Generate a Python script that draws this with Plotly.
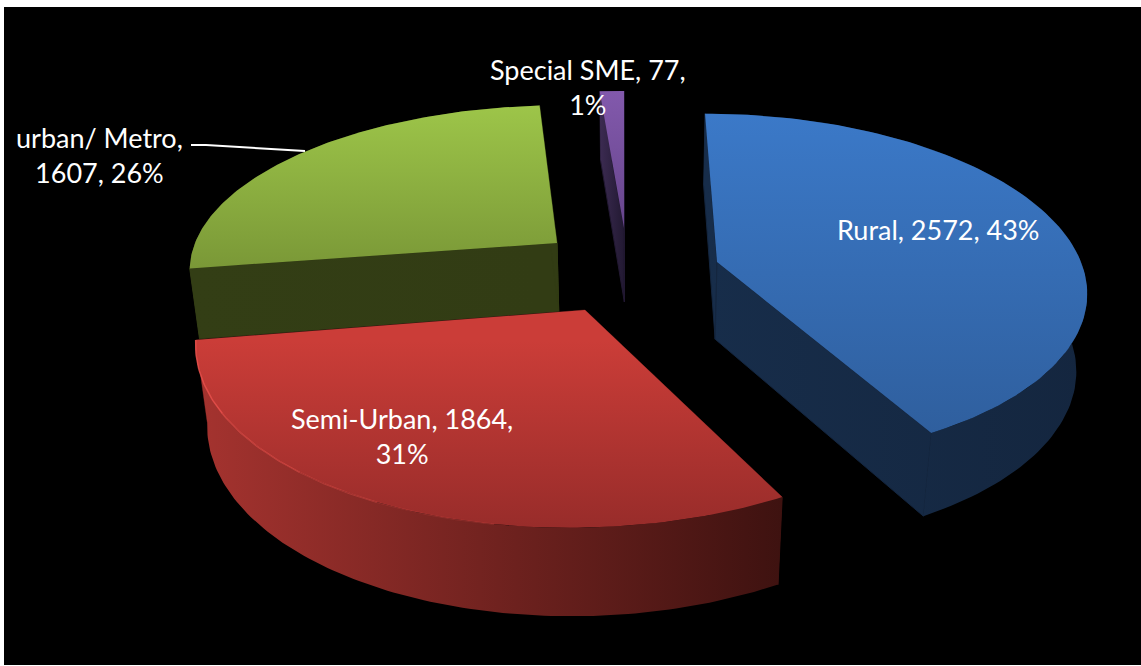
import numpy as np
import plotly.graph_objects as go

categories = ["Rural", "Semi-Urban", "urban/ Metro", "Special SME"]
values = [2572, 1864, 1607, 77]
percent_labels = ["43%", "31%", "26%", "1%"]

# 3-D look of each slice (pixels of the page)
apex_x = [717, 585, 557, 624]
apex_y = [262, 310, 243, 228]
radius_x = [364, 383, 362, 352]
radius_y = [170, 186, 158, 157]
shear = [-13.7, 13.7, 8.6, 0]
wall_base = [68, 70, 61, 66]
top_colors = [("#3b79c8", "#2f5f9e"), ("#cb3d38", "#982c2a"), ("#9dc549", "#7a9837"), ("#8259ac", "#67458c")]
wall_colors = [("#172d4a", "#14263f"), ("#a5332f", "#3e1210"), ("#333e15", "#323c14"), ("#3c2b52", "#221932")]
PERSP = 0.146
VX, VY = 640, 3500
WALL_SLOPE = 0.035

W, H = 1141, 666
fractions = np.array(values) / sum(values)
ends = np.cumsum(fractions) * 2 * np.pi
starts = np.concatenate([[0], ends[:-1]])


def top_point(i, t):
    u, v = np.sin(t), np.cos(t)
    s = 1 / (1 + PERSP * v)
    return apex_x[i] + (radius_x[i] * u + shear[i] * v) * s, apex_y[i] - radius_y[i] * v * s


def bottom_point(i, x, y):
    h = wall_base[i] + WALL_SLOPE * y
    f = h / (VY - y)
    return x + (VX - x) * f, y + h


def poly(fig, xs, ys, colors, kind, start=None, stop=None, edge=None):
    fig.add_trace(go.Scatter(
        x=list(xs) + [xs[0]], y=list(ys) + [ys[0]], mode="lines",
        line=dict(width=1, color=edge) if edge else dict(width=0),
        fill="toself", hoverinfo="skip", showlegend=False,
        fillgradient=dict(type=kind, start=start, stop=stop,
                          colorscale=[[0, colors[0]], [1, colors[1]]]),
    ))


fig = go.Figure()
for i in [2, 3, 0, 1]:  # back slices first
    ts = np.linspace(starts[i], ends[i], 120)
    tx, ty = top_point(i, ts)
    bx, by = bottom_point(i, tx, ty)
    ax, ay = float(apex_x[i]), float(apex_y[i])
    abx, aby = bottom_point(i, ax, ay)
    wall = wall_colors[i]
    # radial walls
    for k in (0, -1):
        poly(fig, [ax, tx[k], bx[k], abx], [ay, ty[k], by[k], aby], (wall[0], wall[1]), "horizontal",
             float(tx.min()), float(tx.max()), edge=wall[1])
    # outer wall
    poly(fig, list(tx) + list(bx[::-1]), list(ty) + list(by[::-1]), wall, "horizontal",
         float(tx.min()), float(tx.max()))
    # top face
    poly(fig, [ax] + list(tx), [ay] + list(ty), top_colors[i], "vertical",
         float(ty.min()), float(max(ty.max(), ay)))

# light rim on the left of the red slice, fading towards the front
span = ends[1] - starts[1]
for lo, hi, alpha in [(0.35, 0.5, 0.2), (0.5, 0.62, 0.4), (0.62, 0.8, 0.6), (0.8, 1.0, 0.85)]:
    rim_x, rim_y = top_point(1, np.linspace(starts[1] + lo * span, starts[1] + hi * span, 30))
    fig.add_trace(go.Scatter(x=rim_x, y=rim_y, mode="lines", hoverinfo="skip", showlegend=False,
                             line=dict(color=f"rgba(232,80,75,{alpha})", width=1.5)))

label_x = [938, 402, 99, 588]
label_y = [229, 436, 155, 87]
label_text = [
    f"{categories[0]}, {values[0]}, {percent_labels[0]}",
    f"{categories[1]}, {values[1]},<br>{percent_labels[1]}",
    f"{categories[2]},<br>{values[2]}, {percent_labels[2]}",
    f"{categories[3]}, {values[3]},<br>{percent_labels[3]}",
]
annotations = [
    dict(x=x, y=y, text=t, showarrow=False, xanchor="center", yanchor="middle", align="center",
         font=dict(family="Lato", size=27, color="white"))
    for x, y, t in zip(label_x, label_y, label_text)
]

fig.update_layout(
    width=W, height=H, margin=dict(l=0, r=0, t=0, b=0),
    paper_bgcolor="white", plot_bgcolor="white", showlegend=False,
    xaxis=dict(range=[0, W], visible=False, fixedrange=True),
    yaxis=dict(range=[H, 0], visible=False, fixedrange=True),
    annotations=annotations,
    shapes=[
        dict(type="rect", layer="below", x0=4, x1=W, y0=7, y1=665, fillcolor="black", line=dict(width=0)),
        dict(type="path", path="M 191 145 L 206 145 L 305 151", line=dict(color="white", width=2)),
    ],
)
fig.write_html("out.html", config=dict(displayModeBar=False),
               post_script="document.body.style.margin='0';document.body.style.overflow='hidden';")
